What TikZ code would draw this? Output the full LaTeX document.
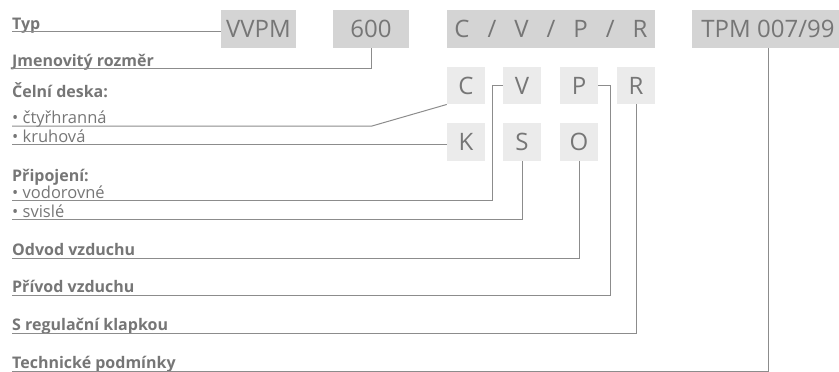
\documentclass[tikz,border=0pt]{standalone}
\usepackage{fontspec}
\setmainfont{Open Sans}
\definecolor{boxdark}{HTML}{D4D4D4}
\definecolor{boxlight}{HTML}{EBEBEB}
\definecolor{txt}{HTML}{767676}
\definecolor{ln}{HTML}{8C8C8C}
\begin{document}
\begin{tikzpicture}[x=1pt,y=-1pt,
 bigbox/.style={fill=boxdark, text=txt, inner sep=0pt, minimum height=37.5pt, text height=17pt, text depth=0pt, font=\fontsize{24}{24}\selectfont},
 smallbox/.style={fill=boxlight, text=txt, inner sep=0pt, minimum width=38pt, minimum height=37.5pt, text height=17pt, text depth=0pt, font=\fontsize{24}{24}\selectfont},
 head/.style={anchor=base west, inner sep=0pt, text=txt, font=\fontsize{16}{16}\selectfont\bfseries},
 item/.style={anchor=base west, inner sep=0pt, text=txt, font=\fontsize{16.5}{16.5}\selectfont},
 conn/.style={draw=ln, line width=1pt}]
\useasboundingbox (0,0) rectangle (839,372);
\clip (0,0) rectangle (839,372);
% top row
\node[bigbox, minimum width=75pt] (vvpm) at (258.5,28.75) {VVPM};
\node[bigbox, minimum width=76pt] (dim) at (371,28.75) {600};
\node[bigbox, minimum width=208pt] (cvpr) at (551,28.75) {C\hspace{18pt}/\hspace{18pt}V\hspace{18pt}/\hspace{18pt}P\hspace{18pt}/\hspace{18pt}R};
\node[bigbox, minimum width=152pt] (tpm) at (768,28.75) {TPM 007/99};
% small boxes
\node[smallbox] (bC) at (466,85.5) {C};
\node[smallbox] (bV) at (522,85.5) {V};
\node[smallbox] (bP) at (579,85.5) {P};
\node[smallbox] (bR) at (636,85.5) {R};
\node[smallbox] (bK) at (466,142) {K};
\node[smallbox] (bS) at (522,142) {S};
\node[smallbox] (bO) at (579,142) {O};
% labels
\node[head] (lTyp) at (12,29) {Typ};
\node[head] (lJm) at (12,66) {Jmenovitý rozměr};
\node[head] (lCel) at (12,97) {Čelní deska:};
\node[item] (lCt) at (12,123) {• čtyřhranná};
\node[item] (lKr) at (12,142) {• kruhová};
\node[head] (lPr) at (12,181) {Připojení:};
\node[item] (lVo) at (12,198) {• vodorovné};
\node[item] (lSv) at (12,217) {• svislé};
\node[head] (lOd) at (12,255) {Odvod vzduchu};
\node[head] (lPv) at (12,292) {Přívod vzduchu};
\node[head] (lSr) at (12,330) {S regulační klapkou};
\node[head] (lTe) at (12,368) {Technické podmínky};
% connectors
\coordinate (uTyp) at (12,31.5);
\coordinate (uJm) at (12,68.5);
\coordinate (uCt) at (12,126);
\coordinate (kCt) at (372,126);
\coordinate (uKr) at (12,144);
\coordinate (uVo) at (12,200);
\coordinate (uSv) at (12,219);
\coordinate (uOd) at (12,258);
\coordinate (uPv) at (12,295);
\coordinate (uSr) at (12,333);
\coordinate (uTe) at (12,371);
\draw[conn] (uTyp) -- (uTyp -| vvpm.west);
\draw[conn] (uJm) -| (dim.south);
\draw[conn] (uCt) -- (kCt) -- (bC.south west);
\draw[conn] (uKr) -- (uKr -| bK.west);
\draw[conn] (uVo) -| ([xshift=-10pt]bV.west) -- (bV.west);
\draw[conn] (uSv) -| (bS.south);
\draw[conn] (uOd) -| (bO.south);
\draw[conn] (uPv) -| ([xshift=12pt]bP.east) -- (bP.east);
\draw[conn] (uSr) -| (bR.south);
\draw[conn] (uTe) -| (tpm.south);
\end{tikzpicture}
\end{document}
